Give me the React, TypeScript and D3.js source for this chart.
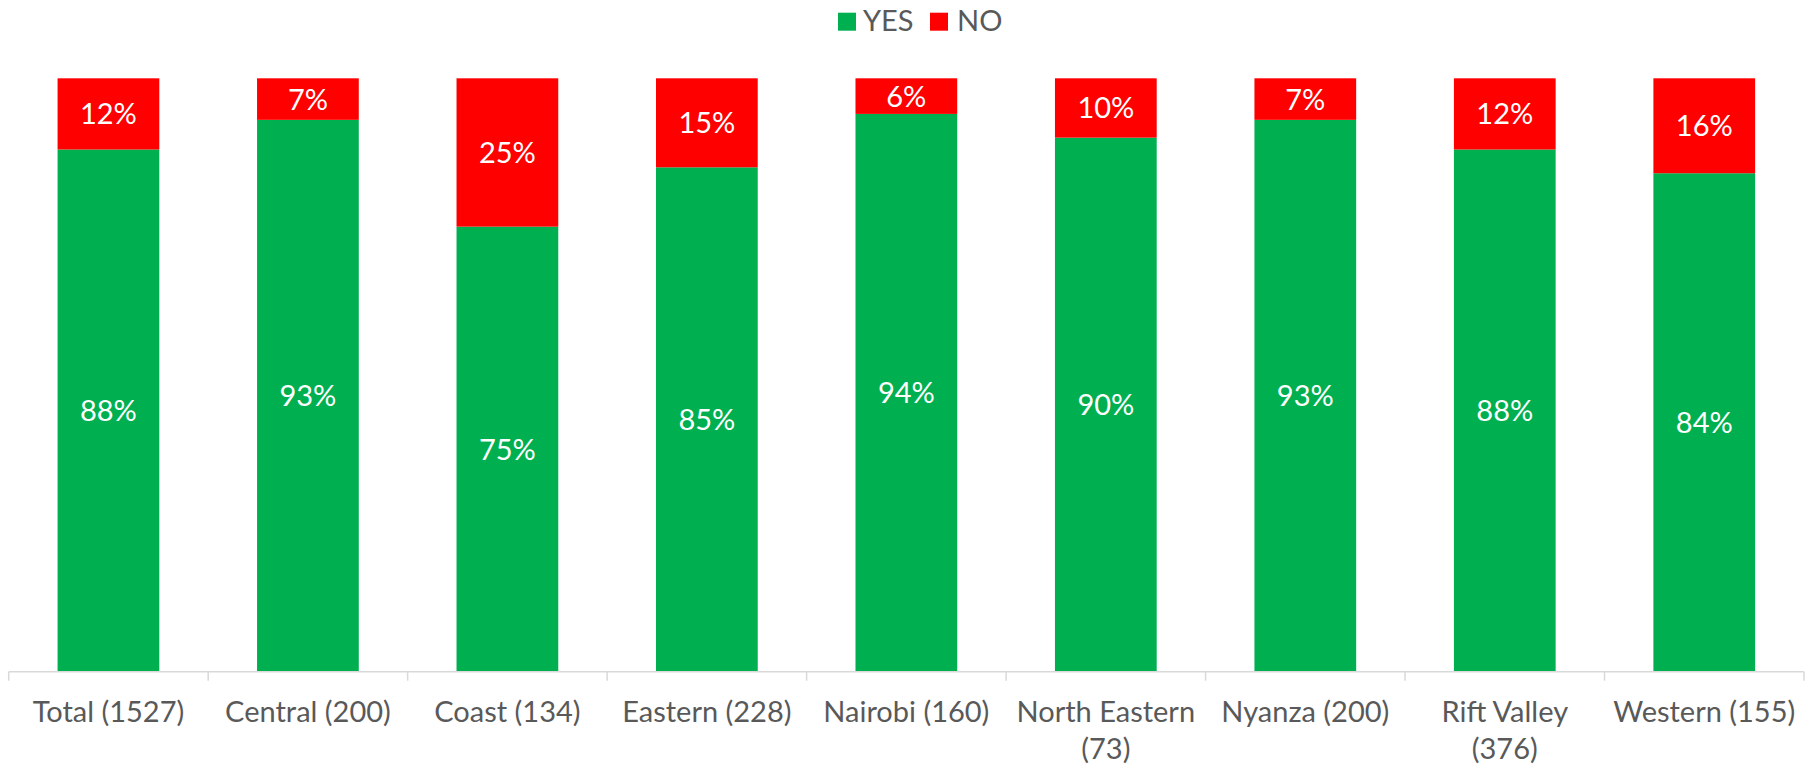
import React from "react";
import * as d3 from "d3";

const categories = [
  "Total (1527)",
  "Central (200)",
  "Coast (134)",
  "Eastern (228)",
  "Nairobi (160)",
  "North Eastern (73)",
  "Nyanza (200)",
  "Rift Valley (376)",
  "Western (155)",
];
const yesValues = [88, 93, 75, 85, 94, 90, 93, 88, 84];
const noValues = [12, 7, 25, 15, 6, 10, 7, 12, 16];
const seriesNames = ["YES", "NO"];
const seriesColors = ["#00B050", "#FF0000"];

const W = 1807;
const H = 768;
const FONT = "Lato, 'Open Sans', sans-serif";

function wrapLabel(s: string): string[] {
  if (s.length < 17) return [s];
  const i = s.lastIndexOf(" ");
  return [s.slice(0, i), s.slice(i + 1)];
}

export default function App() {
  const x = d3.scaleBand<string>().domain(categories).range([8.7, 1804]).paddingInner(0.49).paddingOuter(0.245);
  const band = d3.scaleBand<string>().domain(categories).range([8.7, 1804]);
  const y = d3.scaleLinear().domain([0, 100]).range([671.7, 78.3]);
  const axisY = y(0);

  const rows = categories.map((c, i) => ({ cat: c, YES: yesValues[i], NO: noValues[i] }));
  const stack = d3.stack<any>().keys(seriesNames)(rows);

  const legendItems = [
    { name: seriesNames[0], color: seriesColors[0], sx: 838, tx: 863 },
    { name: seriesNames[1], color: seriesColors[1], sx: 930, tx: 957 },
  ];

  return (
    <svg width={W} height={H} style={{ position: "absolute", left: 0, top: 0, background: "#fff" }} fontFamily={FONT}>
      {stack.map((s, si) => (
        <g key={s.key}>
          {s.map((d, i) => {
            const cat = categories[i];
            const x0 = x(cat)!;
            const y0 = y(d[1]);
            const y1 = y(d[0]);
            return (
              <g key={cat}>
                <rect x={x0} y={y0} width={x.bandwidth()} height={y1 - y0} fill={seriesColors[si]} />
                <text
                  x={x0 + x.bandwidth() / 2}
                  y={(y0 + y1) / 2}
                  dy="0.36em"
                  textAnchor="middle"
                  fill="#ffffff"
                  fontSize={29}
                >
                  {`${d[1] - d[0]}%`}
                </text>
              </g>
            );
          })}
        </g>
      ))}
      <line x1={band.range()[0]} x2={band.range()[1]} y1={axisY} y2={axisY} stroke="#D9D9D9" strokeWidth={1.5} />
      {categories.map((c) => (
        <line key={"t" + c} x1={band(c)!} x2={band(c)!} y1={axisY} y2={axisY + 9} stroke="#D9D9D9" strokeWidth={1.5} />
      ))}
      <line x1={band.range()[1]} x2={band.range()[1]} y1={axisY} y2={axisY + 9} stroke="#D9D9D9" strokeWidth={1.5} />
      {categories.map((c) => (
        <text key={"l" + c} x={band(c)! + band.bandwidth() / 2} y={722} textAnchor="middle" fill="#595959" fontSize={29}>
          {wrapLabel(c).map((line, li) => (
            <tspan key={li} x={band(c)! + band.bandwidth() / 2} dy={li === 0 ? 0 : 37}>
              {line}
            </tspan>
          ))}
        </text>
      ))}
      {legendItems.map((l) => (
        <g key={l.name}>
          <rect x={l.sx} y={12.7} width={18} height={18} fill={l.color} />
          <text x={l.tx} y={30.7} fill="#595959" fontSize={29}>
            {l.name}
          </text>
        </g>
      ))}
    </svg>
  );
}
